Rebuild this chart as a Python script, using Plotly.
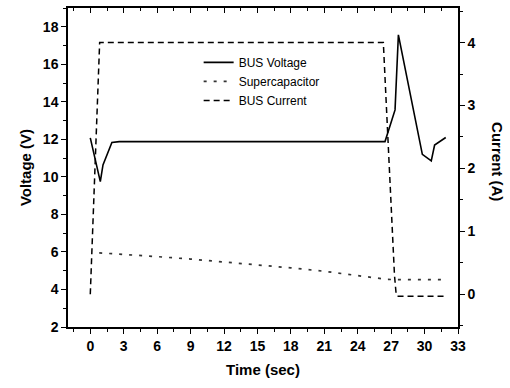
import plotly.graph_objects as go

# BUS Voltage (left axis, V)
bus_v_t = [0.0, 0.9, 1.14, 1.94, 2.6, 26.45, 27.35, 27.65, 29.8, 30.6, 30.9, 31.9]
bus_v = [12.08, 9.75, 10.64, 11.83, 11.88, 11.88, 13.57, 17.57, 11.2, 10.85, 11.7, 12.1]

# Supercapacitor voltage (left axis, V)
sc_t = [0.8, 3, 6, 9, 12, 15, 18, 21, 24, 26.6, 27.5, 28.5, 30, 32]
sc_v = [5.95, 5.85, 5.75, 5.62, 5.47, 5.32, 5.15, 4.97, 4.74, 4.54, 4.52, 4.52, 4.52, 4.52]

# BUS Current (right axis, A)
cur_t = [0.0, 0.84, 26.3, 27.3, 27.45, 27.55, 32.0]
cur_i = [0.0, 4.0, 4.0, 0.3, 0.0, -0.03, -0.03]

x_range = [-2, 33]
x_tick_step = 3
yl_range = [2, 19]
yl_tick_step = 2
yr_range = [-0.52, 4.55]
yr_tick_step = 1

fig = go.Figure()
fig.add_trace(go.Scatter(x=bus_v_t, y=bus_v, mode="lines", name="BUS Voltage",
                         line=dict(color="black", width=1.6)))
fig.add_trace(go.Scatter(x=sc_t, y=sc_v, mode="lines", name="Supercapacitor",
                         line=dict(color="#333333", width=1.7, dash="3px,7px")))
fig.add_trace(go.Scatter(x=cur_t, y=cur_i, mode="lines", name="BUS Current", yaxis="y2",
                         line=dict(color="black", width=1.5, dash="6px,4px")))
# invisible trace for top mirror axis
fig.add_trace(go.Scatter(x=x_range, y=[yl_range[0]] * 2, xaxis="x2", mode="lines",
                         line=dict(width=0), showlegend=False, hoverinfo="skip"))

tickfont = dict(family="Liberation Sans, Arial", size=14, color="black", weight="bold")
titlefont = dict(family="Liberation Sans, Arial", size=15, color="black", weight="bold")

fig.update_layout(
    width=510, height=388,
    margin=dict(l=68, r=52, t=8, b=61),
    paper_bgcolor="white", plot_bgcolor="white",
    showlegend=True,
    legend=dict(x=0.335, y=0.875, xanchor="left", yanchor="top",
                bgcolor="rgba(0,0,0,0)", borderwidth=0,
                font=dict(family="Liberation Sans, Arial", size=12, color="black"),
                tracegroupgap=0, itemwidth=30),
    xaxis=dict(range=x_range, tickmode="linear", tick0=0, dtick=x_tick_step,
               ticks="outside", ticklen=5, tickwidth=1.3, tickcolor="black",
               showline=True, linecolor="black", linewidth=1.5,
               showgrid=False, zeroline=False, tickfont=tickfont,
               title=dict(text="Time (sec)", font=titlefont, standoff=12),
               minor=dict(dtick=1.5, tick0=0, ticks="outside", ticklen=3,
                          tickwidth=1.2, tickcolor="black", showgrid=False)),
    xaxis2=dict(range=x_range, overlaying="x", side="top", anchor="y",
                tickmode="linear", tick0=0, dtick=x_tick_step,
                ticks="inside", ticklen=5, tickwidth=1.3, tickcolor="black",
                showticklabels=False, showline=True, linecolor="black", linewidth=1.5,
                showgrid=False, zeroline=False,
                minor=dict(dtick=1.5, tick0=0, ticks="inside", ticklen=3,
                           tickwidth=1.2, tickcolor="black", showgrid=False)),
    yaxis=dict(range=yl_range, tickmode="linear", tick0=0, dtick=yl_tick_step,
               ticks="outside", ticklen=5, tickwidth=1.3, tickcolor="black",
               showline=True, linecolor="black", linewidth=1.5,
               showgrid=False, zeroline=False, tickfont=tickfont,
               title=dict(text="Voltage (V)", font=titlefont, standoff=8),
               minor=dict(dtick=1, tick0=0, ticks="outside", ticklen=3,
                          tickwidth=1.2, tickcolor="black", showgrid=False)),
    yaxis2=dict(range=yr_range, overlaying="y", side="right", anchor="x",
                tickmode="linear", tick0=0, dtick=yr_tick_step,
                ticks="outside", ticklen=5, tickwidth=1.3, tickcolor="black",
                showline=True, linecolor="black", linewidth=1.5,
                showgrid=False, zeroline=False, tickfont=tickfont,
                minor=dict(dtick=0.5, tick0=0, ticks="outside", ticklen=3,
                           tickwidth=1.2, tickcolor="black", showgrid=False)),
    annotations=[dict(text="Current (A)", xref="paper", yref="paper", x=1.0, y=0.52,
                      xshift=40, textangle=90, showarrow=False, font=titlefont,
                      xanchor="center", yanchor="middle")],
)

fig.write_html("out.html")
